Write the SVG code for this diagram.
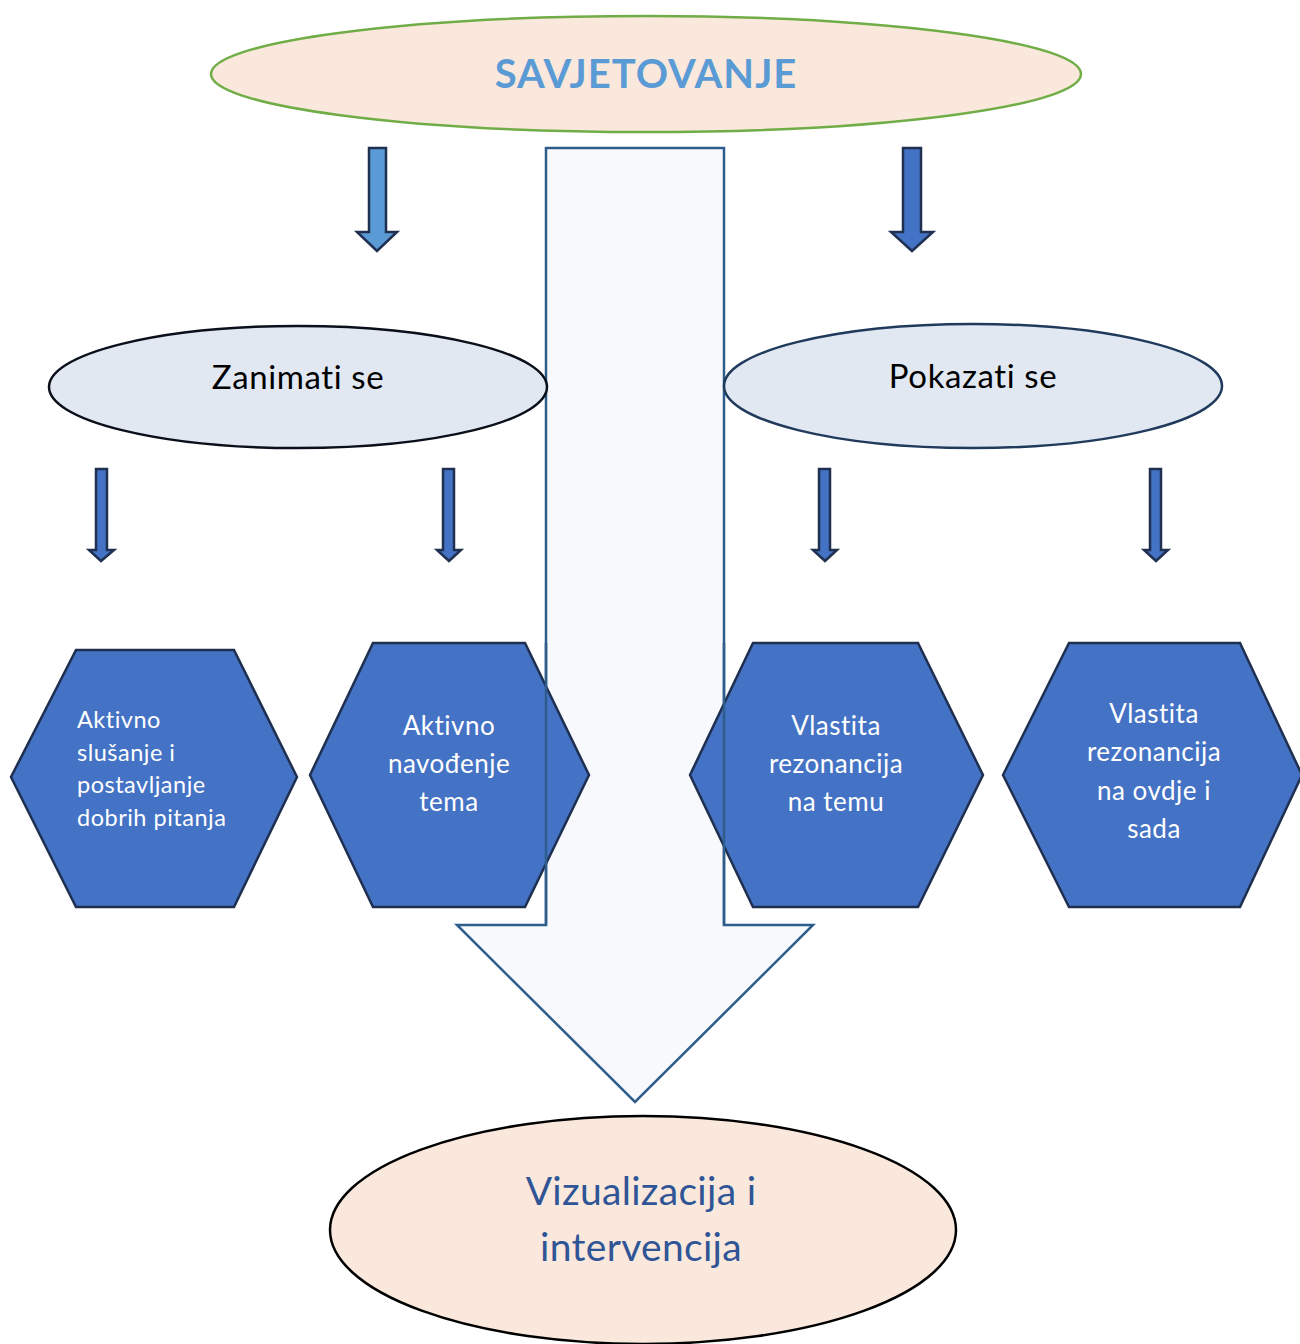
<svg xmlns="http://www.w3.org/2000/svg" width="1300" height="1344" viewBox="0 0 1300 1344">
<style>
text{font-family:Lato,"Noto Sans","Liberation Sans",sans-serif;text-anchor:middle;font-variant-ligatures:none}
.hex{fill:#4472C4;stroke:#1F2F4F;stroke-width:2.5}
.ht{fill:#ffffff;font-size:26px;letter-spacing:0.5px}
.sa{stroke:#1F3050;stroke-width:2.5}
.el{fill:#E1E8F2;stroke-width:2.5}
</style>
<rect width="1300" height="1344" fill="#ffffff"/>
<g id="connectors">
<path id="big-arrow" d="M546,148 H724 V925 H813 L635,1102 L457,925 H546 Z" fill="#F7F9FD" stroke="#2E5D8C" stroke-width="2.5"/>
<path d="M369,148 H386 V232 H397 L377,251 L357,232 H369 Z" class="sa" fill="#5B9BD5"/>
<path d="M903,148 H921 V232 H933 L912,251 L891,232 H903 Z" class="sa" fill="#4472C4"/>
<path d="M96,469 H107 V550 H114 L101,561 L89,550 H96 Z" class="sa" fill="#4472C4"/>
<path d="M443,469 H454 V550 H461 L449,561 L437,550 H443 Z" class="sa" fill="#4472C4"/>
<path d="M819,469 H830 V550 H837 L825,561 L813,550 H819 Z" class="sa" fill="#4472C4"/>
<path d="M1150,469 H1161 V550 H1168 L1156,561 L1144,550 H1150 Z" class="sa" fill="#4472C4"/>
</g>
<g id="savjetovanje">
<ellipse cx="646" cy="74" rx="435" ry="58" fill="#FBE8DC" stroke="#70AD47" stroke-width="2.5"/>
<text x="646" y="88" font-size="40" font-weight="bold" fill="#5B9BD5" letter-spacing="1">SAVJETOVANJE</text>
</g>
<g id="zanimati">
<ellipse cx="298" cy="387" rx="249" ry="61" class="el" stroke="#0A0F1A"/>
<text x="298" y="389" font-size="33" fill="#000000" letter-spacing="0.6">Zanimati se</text>
</g>
<g id="pokazati">
<ellipse cx="973" cy="386" rx="249" ry="62" class="el" stroke="#203A5C"/>
<text x="973" y="388" font-size="33" fill="#000000" letter-spacing="0.6">Pokazati se</text>
</g>
<g id="hex1">
<polygon class="hex" points="76,650 234,650 297,777 234,907 76,907 11,777" stroke="#000000"/>
<text class="ht" x="77" style="text-anchor:start;font-size:23.5px;letter-spacing:0.5px"><tspan x="77" y="728">Aktivno</tspan><tspan x="77" y="761">slušanje i</tspan><tspan x="77" y="793">postavljanje</tspan><tspan x="77" y="826">dobrih pitanja</tspan></text>
</g>
<g id="hex2">
<polygon class="hex" points="373,643 525,643 589,775 525,907 373,907 310,775"/>
<text class="ht"><tspan x="449" y="735">Aktivno</tspan><tspan x="449" y="773">navođenje</tspan><tspan x="449" y="811">tema</tspan></text>
</g>
<g id="hex3">
<polygon class="hex" points="753,643 918,643 983,775 918,907 753,907 690,775"/>
<text class="ht"><tspan x="836" y="735">Vlastita</tspan><tspan x="836" y="773">rezonancija</tspan><tspan x="836" y="811">na temu</tspan></text>
</g>
<g id="hex4">
<polygon class="hex" points="1069,643 1240,643 1302,775 1240,907 1069,907 1003,775"/>
<text class="ht"><tspan x="1154" y="723">Vlastita</tspan><tspan x="1154" y="761">rezonancija</tspan><tspan x="1154" y="800">na ovdje i</tspan><tspan x="1154" y="838">sada</tspan></text>
</g>
<g id="shaft-edges">
<line x1="546" y1="643" x2="546" y2="925" stroke="#2E5D8C" stroke-width="2.5"/>
<line x1="724" y1="643" x2="724" y2="925" stroke="#2E5D8C" stroke-width="2.5"/>
</g>
<g id="vizualizacija">
<ellipse cx="643" cy="1230" rx="313" ry="114" fill="#FBE8DC" stroke="#000000" stroke-width="2.5"/>
<text x="641" y="1205" font-size="39" fill="#2F5597" letter-spacing="0.3">Vizualizacija i</text>
<text x="641" y="1261" font-size="39" fill="#2F5597" letter-spacing="0.3">intervencija</text>
</g>
</svg>
